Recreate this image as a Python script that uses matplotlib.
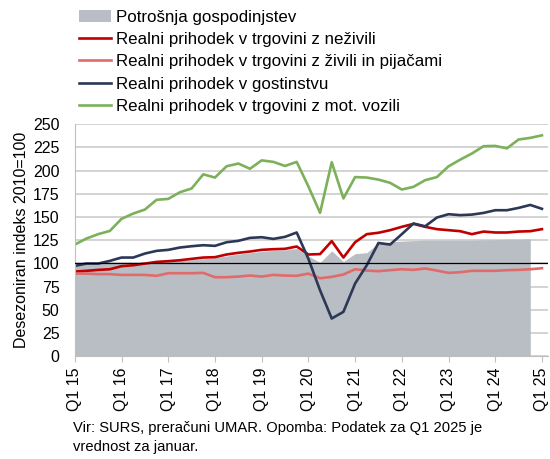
import numpy as np
import matplotlib.pyplot as plt

plt.rcParams['font.family'] = ['Liberation Sans', 'DejaVu Sans']

# quarters Q1 2015 .. Q1 2025
quarters = [f"Q{q} {y}" for y in range(15, 26) for q in range(1, 5)][:41]

potrosnja = [99, 99.5, 100, 100, 100.5, 101, 101, 101.5, 102, 103, 104, 105,
             106, 108, 110, 111.5, 113, 114, 114.5, 116, 108, 101, 113.5, 102,
             110.5, 111.5, 122, 123, 124, 124.5, 125, 125, 125, 125, 125, 125.5,
             125.5, 126, 126, 126.5, np.nan]
nezivili = [91.2, 92, 93, 93.7, 97, 98, 99.8, 101.6, 102.4, 103.4, 104.9, 106.3,
            106.7, 109.6, 111.4, 112.8, 114.6, 115.3, 115.7, 118.2, 109.6, 110, 124, 106.3,
            122.8, 131.5, 133, 135.8, 139.4, 142.6, 139.4, 136.9, 135.8, 134.7, 131.5, 134.3,
            133.3, 133.3, 134.3, 134.7, 136.9]
zivili = [89, 89, 88.4, 88.4, 87.6, 87.6, 87.6, 86.6, 89.4, 89.4, 89.4, 89.8,
          85.1, 85.1, 85.8, 86.9, 85.8, 87.6, 86.9, 86.6, 89, 84, 85.5, 88,
          93.7, 92.3, 91.6, 92.7, 93.7, 93, 94.5, 92.3, 89.8, 90.5, 92, 92,
          92, 92.7, 93, 93.7, 94.8]
gostinstvo = [97.3, 99.8, 99.8, 102.7, 106.3, 106.3, 110.6, 113.5, 114.6, 117.1, 118.5, 119.6,
              118.9, 122.8, 124.3, 127.5, 128.2, 126.4, 128.6, 133.3, 105, 71, 40.6, 47.8,
              78.3, 98, 122, 120.3, 131.5, 143, 140, 149.4, 153, 152, 152.6, 154.4,
              157.3, 157.3, 159.8, 163, 158.8]
vozila = [120.3, 126.8, 131.5, 135, 148, 153.7, 158, 168.5, 169.5, 176.7, 180.7, 196,
          192.5, 204.7, 207.6, 202, 211, 209.4, 205, 209.4, 183, 154.5, 209, 170,
          193, 192.5, 190.3, 186.8, 179.6, 182.5, 189.7, 193, 204.6, 211.8, 218.4, 226.3,
          226.6, 224, 233.5, 235.3, 238]

x = np.arange(len(quarters))

fig = plt.figure(figsize=(5.5, 4.59), dpi=100)
ax = fig.add_axes([0.136, 0.224, 0.86, 0.5054])

ax.fill_between(x, 0, potrosnja, color='#b9bdc4', lw=0, label='Potrošnja gospodinjstev')
ax.plot(x, nezivili, color='#c00000', lw=1.9, label='Realni prihodek v trgovini z neživili')
ax.plot(x, zivili, color='#e06b6b', lw=1.9, label='Realni prihodek v trgovini z živili in pijačami')
ax.plot(x, gostinstvo, color='#2c3856', lw=1.9, label='Realni prihodek v gostinstvu')
ax.plot(x, vozila, color='#7cb05a', lw=1.9, label='Realni prihodek v trgovini z mot. vozili')
ax.axhline(100, color='black', lw=0.9, zorder=3)

ax.set_xlim(0, 40.5)
ax.set_ylim(0, 250)
ax.set_yticks(np.arange(0, 251, 25))
ax.grid(axis='y', color='#d0d0d0', lw=1.3, zorder=0)
ax.set_axisbelow(True)
ax.set_xticks(x[::4])
ax.set_xticklabels(quarters[::4], rotation=90, fontsize=11.5)
ax.tick_params(axis='y', labelsize=11.5, length=0, pad=11)
ax.tick_params(axis='x', length=4, color='#bfbfbf', pad=4)
for s in ['top', 'right']:
    ax.spines[s].set_visible(False)
ax.spines['left'].set_color('#bfbfbf')
ax.spines['bottom'].set_color('#bfbfbf')
ax.set_ylabel('Desezoniran indeks 2010=100', fontsize=11.5, labelpad=3)

fig.legend(loc='upper left', bbox_to_anchor=(0.125, 1.0), frameon=False, fontsize=12.2,
           handlelength=1.9, handletextpad=0.3, labelspacing=0.42, borderaxespad=0.2)

fig.text(0.133, 1 - 421 / 459, 'Vir: SURS, preračuni UMAR. Opomba: Podatek za Q1 2025 je\nvrednost za januar.',
         fontsize=10.6, va='top', ha='left', linespacing=1.45)

fig.savefig('out.png', dpi=100)
